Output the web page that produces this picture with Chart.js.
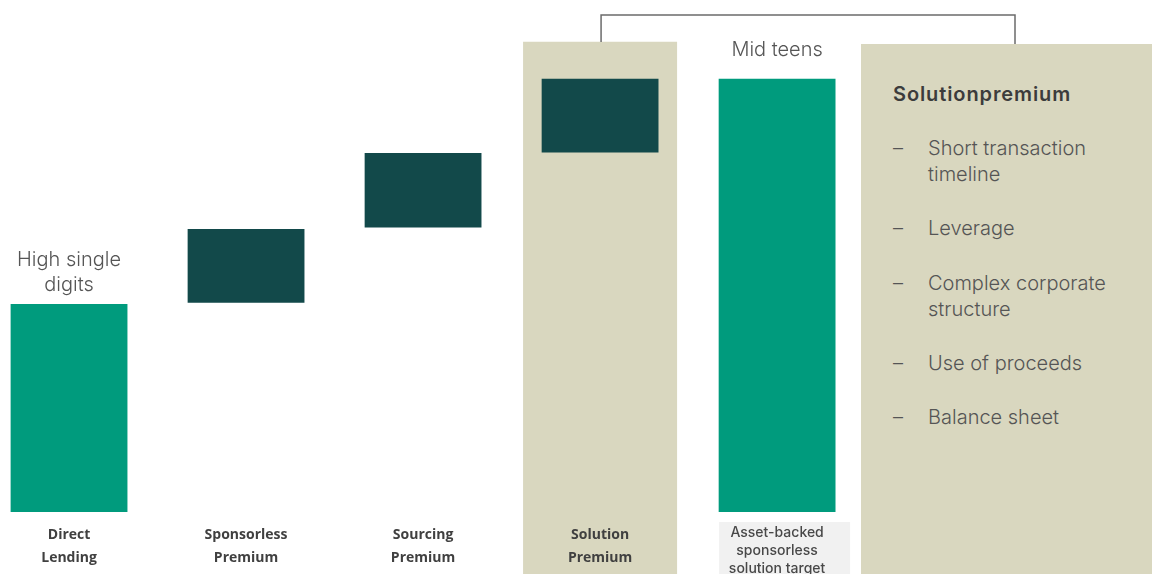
<!DOCTYPE html>
<html><head><meta charset="utf-8">
<script src="https://cdn.jsdelivr.net/npm/chart.js@4/dist/chart.umd.min.js"></script>
<style>
html,body{margin:0;padding:0;background:#fff;}
#wrap{position:relative;width:1152px;height:574px;overflow:hidden;}
#c{position:absolute;left:0;top:0;}
#panel{position:absolute;left:861px;top:44px;width:291px;height:530px;background:#D9D7BF;font-family:Inter,"Open Sans",sans-serif;font-weight:300;color:#555;font-size:20px;line-height:26px;}
#panel .t{position:absolute;left:32px;top:37px;font-weight:600;color:#3c3c3c;letter-spacing:0.9px;}
#panel ul{list-style:none;margin:0;padding:0;position:absolute;left:32px;top:91px;width:255px;}
#panel li{position:relative;padding-left:35px;margin-bottom:28.3px;}
#panel li span{position:absolute;left:0;top:0;}
</style></head>
<body>
<div id="wrap">
<canvas id="c" width="1152" height="574"></canvas>
<div id="panel">
  <div class="t">Solutionpremium</div>
  <ul id="items"></ul>
</div>
</div>
<script>
// ---- data ----
const categories = ['Direct Lending','Sponsorless Premium','Sourcing Premium','Solution Premium','Asset-backed sponsorless solution target'];
const tickLines = [['Direct','Lending'],['Sponsorless','Premium'],['Sourcing','Premium'],['Solution','Premium'],['Asset-backed','sponsorless','solution target']];
const barStart = [0, 7.25, 9.85, 12.45, 0];
const barEnd = [7.2, 9.8, 12.43, 15.0, 15.0];
const barKind = ['total','step','step','step','total'];
const valueLabels = [['High single','digits'], null, null, null, ['Mid teens']];
const highlightIndex = [3];
const highlightStart = [-2.15];
const highlightEnd = [16.28];
const panelTitle = 'Solutionpremium';
const panelItems = [['Short transaction','timeline'],['Leverage'],['Complex corporate','structure'],['Use of proceeds'],['Balance sheet']];

// ---- panel text ----
document.querySelector('#panel .t').textContent = panelTitle;
const ul = document.getElementById('items');
panelItems.forEach(lines => {
  const li = document.createElement('li');
  li.innerHTML = '<span>\u2013</span>' + lines.join('<br>');
  ul.appendChild(li);
});

const TEAL = '#009B7D', DARK = '#12494A', BEIGE = '#D9D7BF';
const LIGHT_FONT = 'Inter, "Open Sans", sans-serif';

const decor = {
  id: 'decor',
  afterDatasetsDraw(chart) {
    const ctx = chart.ctx, x = chart.scales.x, y = chart.scales.y;
    // gray box behind last label
    const cx = x.getPixelForValue(4);
    ctx.save();
    ctx.fillStyle = '#F1F1F1';
    ctx.fillRect(cx - 58, 522, 131, 60);
    // value labels
    ctx.fillStyle = '#555';
    ctx.font = '300 20px ' + LIGHT_FONT;
    ctx.textAlign = 'center';
    ctx.textBaseline = 'middle';
    const offs = [19, 0, 0, 0, 29];
    valueLabels.forEach((lines, i) => {
      if (!lines) return;
      const px = x.getPixelForValue(i);
      const top = y.getPixelForValue(barEnd[i]);
      lines.slice().reverse().forEach((t, j) => {
        ctx.fillText(t, px, top - offs[i] - j * 25);
      });
    });
    // bracket
    const lx = x.getPixelForValue(highlightIndex[0]) + 1;
    ctx.strokeStyle = '#6b6b6b';
    ctx.lineWidth = 1.5;
    ctx.beginPath();
    ctx.moveTo(lx, 42); ctx.lineTo(lx, 15); ctx.lineTo(1015, 15); ctx.lineTo(1015, 44);
    ctx.stroke();
    ctx.restore();
  }
};

new Chart(document.getElementById('c'), {
  type: 'bar',
  data: {
    datasets: [
      {
        label: 'highlight',
        data: highlightIndex.map((v, i) => ({x: v, y: [highlightStart[i], highlightEnd[i]]})),
        backgroundColor: BEIGE,
        barPercentage: 0.87, categoryPercentage: 1,
        grouped: false, clip: false, order: 2
      },
      {
        label: 'values',
        data: categories.map((c, i) => ({x: i, y: [barStart[i], barEnd[i]]})),
        backgroundColor: barKind.map(k => k === 'total' ? TEAL : DARK),
        barPercentage: 0.66, categoryPercentage: 1,
        grouped: false, order: 1
      }
    ]
  },
  options: {
    responsive: false, animation: false,
    layout: {padding: 0},
    plugins: {legend: {display: false}, tooltip: {enabled: false}},
    scales: {
      x: {
        type: 'linear', min: -0.39, max: 6.118, offset: false,
        grid: {display: false, drawTicks: false},
        border: {display: false},
        afterFit(s) { s.height = 62; },
        afterBuildTicks(s) { s.ticks = categories.map((c, i) => ({value: i})); },
        ticks: {
          z: 1,
          autoSkip: false, maxRotation: 0, padding: 12,
          callback: (v) => tickLines[v] || '',
          color: (ctx) => ctx.index === 4 ? '#484848' : '#404040',
          font: (ctx) => ctx.index === 4
            ? {family: LIGHT_FONT, size: 14, weight: '500', lineHeight: '18px'}
            : {family: '"Open Sans", sans-serif', size: 14, weight: 'bold', lineHeight: '23px'}
        }
      },
      y: {display: false, min: 0, max: 17.73}
    }
  },
  plugins: [decor]
});
</script>
</body></html>
